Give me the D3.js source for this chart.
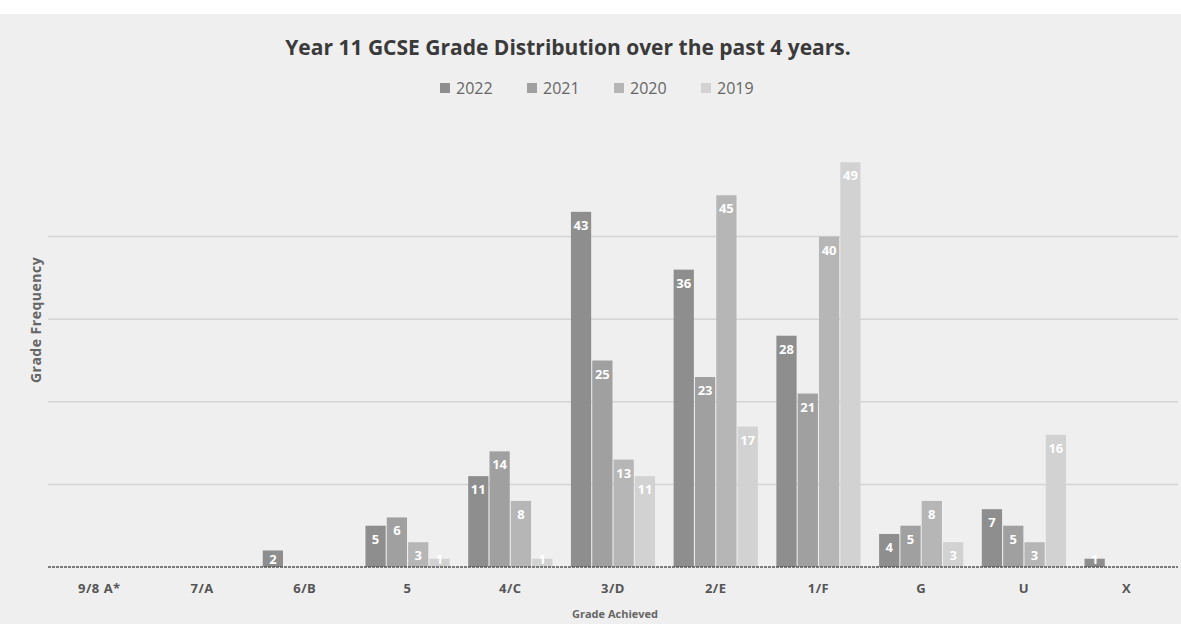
<!DOCTYPE html>
<html>
<head>
<meta charset="utf-8">
<script src="https://cdn.jsdelivr.net/npm/d3@7"></script>
<style>
  body { margin: 0; background: #fff; }
  svg { display: block; font-family: "Open Sans", "Liberation Sans", sans-serif; }
</style>
</head>
<body>
<svg id="chart" width="1181" height="624"></svg>
<script>
// grades along the x axis
const grades = ["9/8 A*", "7/A", "6/B", "5", "4/C", "3/D", "2/E", "1/F", "G", "U", "X"];
const years = ["2022", "2021", "2020", "2019"];

// frequency per grade, one array per year
const freq2022 = [0, 0, 2, 5, 11, 43, 36, 28, 4, 7, 1];
const freq2021 = [0, 0, 0, 6, 14, 25, 23, 21, 5, 5, 0];
const freq2020 = [0, 0, 0, 3, 8, 13, 45, 40, 8, 3, 0];
const freq2019 = [0, 0, 0, 1, 1, 11, 17, 49, 3, 16, 0];

const yTicks = [0, 10, 20, 30, 40];

const seriesValues = { "2022": freq2022, "2021": freq2021, "2020": freq2020, "2019": freq2019 };
const colours = { "2022": "#8e8e8e", "2021": "#a0a0a0", "2020": "#b6b6b6", "2019": "#d2d2d2" };

const width = 1181, height = 624;
const margin = { top: 154, right: 3, bottom: 57, left: 48 };

const svg = d3.select("#chart");

// page background, a light grey scan
svg.append("rect")
  .attr("x", 0).attr("y", 0)
  .attr("width", width).attr("height", height)
  .attr("fill", "#ffffff");
svg.append("rect")
  .attr("x", 0).attr("y", 14)
  .attr("width", width).attr("height", height - 14)
  .attr("fill", "#efefef");

const x0 = d3.scaleBand()
  .domain(grades)
  .range([margin.left, width - margin.right])
  .paddingInner(0.16)
  .paddingOuter(0.08);

const x1 = d3.scaleBand()
  .domain(years)
  .range([0, x0.bandwidth()])
  .padding(0.05);

const y = d3.scaleLinear()
  .domain([0, 50])
  .range([height - margin.bottom, margin.top]);

// gridlines
svg.append("g")
  .selectAll("line")
  .data(yTicks.filter(d => d > 0))
  .join("line")
  .attr("x1", margin.left)
  .attr("x2", width - margin.right)
  .attr("y1", d => y(d))
  .attr("y2", d => y(d))
  .attr("stroke", "#d4d4d4")
  .attr("stroke-width", 1.5);

// bars
const groups = svg.append("g")
  .selectAll("g")
  .data(grades)
  .join("g")
  .attr("transform", d => `translate(${x0(d)},0)`);

const cells = groups.selectAll("g")
  .data((g, i) => years.map(yr => ({ year: yr, value: seriesValues[yr][i] })))
  .join("g");

cells.filter(d => d.value > 0)
  .append("rect")
  .attr("x", d => x1(d.year))
  .attr("y", d => y(d.value))
  .attr("width", x1.bandwidth())
  .attr("height", d => y(0) - y(d.value))
  .attr("fill", d => colours[d.year]);

// value labels, kept above the baseline for the tiny bars
cells.filter(d => d.value > 0)
  .append("text")
  .attr("x", d => x1(d.year) + x1.bandwidth() / 2)
  .attr("y", d => Math.min(y(d.value) + 18, y(0) - 3))
  .attr("text-anchor", "middle")
  .attr("fill", "#ffffff")
  .style("font-size", "13px")
  .style("font-weight", "bold")
  .text(d => d.value);

// x axis baseline
svg.append("line")
  .attr("x1", margin.left)
  .attr("x2", width - margin.right)
  .attr("y1", y(0))
  .attr("y2", y(0))
  .attr("stroke", "#555")
  .attr("stroke-width", 1.5)
  .attr("stroke-dasharray", "3,1");

const xAxis = svg.append("g")
  .attr("transform", `translate(0,${y(0)})`)
  .call(d3.axisBottom(x0).tickSize(0).tickPadding(17));
xAxis.select(".domain").remove();
xAxis.selectAll("text")
  .style("font-family", "'Open Sans', sans-serif")
  .style("font-size", "13px")
  .style("font-weight", "bold")
  .style("letter-spacing", "0.5px")
  .attr("fill", "#555");

// title
svg.append("text")
  .attr("x", 568)
  .attr("y", 55)
  .attr("text-anchor", "middle")
  .attr("fill", "#3a3a3a")
  .style("font-size", "21px")
  .style("font-weight", "bold")
  .text("Year 11 GCSE Grade Distribution over the past 4 years.");

// legend
const legend = svg.append("g")
  .attr("transform", "translate(440,89)");
const item = legend.selectAll("g")
  .data(years)
  .join("g")
  .attr("transform", (d, i) => `translate(${i * 87},0)`);
item.append("rect")
  .attr("x", 0).attr("y", -6)
  .attr("width", 10).attr("height", 10)
  .attr("fill", d => colours[d]);
item.append("text")
  .attr("x", 16)
  .attr("y", 5)
  .attr("fill", "#666")
  .style("font-size", "16px")
  .text(d => d);

// axis titles
svg.append("text")
  .attr("transform", "translate(41,320) rotate(-90)")
  .attr("text-anchor", "middle")
  .attr("fill", "#666")
  .style("font-size", "14px")
  .style("font-weight", "bold")
  .style("letter-spacing", "0.5px")
  .text("Grade Frequency");

svg.append("text")
  .attr("x", 615)
  .attr("y", 618)
  .attr("text-anchor", "middle")
  .attr("fill", "#666")
  .style("font-size", "11px")
  .style("font-weight", "bold")
  .text("Grade Achieved");
</script>
</body>
</html>
